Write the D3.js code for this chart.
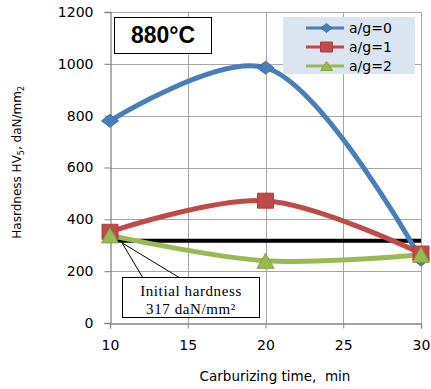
<!DOCTYPE html>
<html>
<head>
<meta charset="utf-8">
<script src="https://cdn.jsdelivr.net/npm/d3@7"></script>
<style>
  html, body { margin: 0; padding: 0; background: #fff; }
  svg { display: block; }
</style>
</head>
<body>
<svg id="chart" width="431" height="389"></svg>
<script>
// Carburizing time (min) and hardness for each a/g ratio
const times = [10, 20, 30];
const seriesNames = ["a/g=0", "a/g=1", "a/g=2"];
const hardnessAg0 = [780, 985, 245];
const hardnessAg1 = [352, 472, 268];
const hardnessAg2 = [338, 240, 263];
const initialHardness = 317;
const yTicks = [0, 200, 400, 600, 800, 1000, 1200];
const xTicks = [10, 15, 20, 25, 30];

const colors = ["#4a7ebb", "#be4b48", "#98b954"];
const markerStroke = ["#3d6faa", "#a8403d", "#84a446"];

// marker outlines, width w and height h, centred on the data point
const markerShapes = [
  (w, h) => `M${-w / 2},0L0,${-h / 2}L${w / 2},0L0,${h / 2}Z`,
  (w, h) => `M${-w / 2},${-h / 2}H${w / 2}V${h / 2}H${-w / 2}Z`,
  (w, h) => `M${-w / 2},${h / 2}L0,${-h / 2}L${w / 2},${h / 2}Z`
];
const plotMarker = [[17, 13], [16, 15], [17, 15]];
const legendMarker = [[11, 9], [12, 10], [12, 9]];

const series = seriesNames.map((name, i) => ({
  name,
  values: [hardnessAg0, hardnessAg1, hardnessAg2][i].map((v, j) => ({ t: times[j], v }))
}));

const svg = d3.select("#chart");
const x = d3.scaleLinear().domain([10, 30]).range([110, 421]);
const y = d3.scaleLinear().domain([0, 1200]).range([323, 12]);

// grid
const grid = svg.append("g").attr("stroke", "#a6a6a6").attr("stroke-width", 1);
grid.selectAll("line.h").data(yTicks.filter(d => d > 0)).join("line")
  .attr("x1", x(10)).attr("x2", x(30))
  .attr("y1", d => Math.round(y(d)) + 0.5).attr("y2", d => Math.round(y(d)) + 0.5);
grid.selectAll("line.v").data(xTicks.filter(d => d > 10)).join("line")
  .attr("y1", y(0)).attr("y2", y(1200))
  .attr("x1", d => Math.round(x(d)) + 0.5).attr("x2", d => Math.round(x(d)) + 0.5);

// axes
const axisFont = "'DejaVu Sans', Verdana, sans-serif";
const yAxis = svg.append("g")
  .attr("transform", `translate(${Math.round(x(10)) + 0.5},0)`)
  .call(d3.axisLeft(y).tickValues(yTicks).tickFormat(d3.format("d")).tickSize(6).tickPadding(11));
const xAxis = svg.append("g")
  .attr("transform", `translate(0,${Math.round(y(0)) + 0.5})`)
  .call(d3.axisBottom(x).tickValues(xTicks).tickFormat(d3.format("d")).tickSize(5).tickPadding(12));
[yAxis, xAxis].forEach(a => {
  a.select(".domain").attr("stroke", "#868686").attr("stroke-width", 1.3);
  a.selectAll(".tick line").attr("stroke", "#868686");
  a.selectAll(".tick text").attr("font-family", axisFont).attr("font-size", 14).attr("fill", "#000");
});

// axis titles
svg.append("text")
  .attr("transform", `translate(21,${y(620)}) rotate(-90)`)
  .attr("text-anchor", "middle")
  .attr("font-family", axisFont).attr("font-size", 12)
  .call(t => {
    t.append("tspan").text("Hasrdness HV");
    t.append("tspan").attr("font-size", 8).attr("dy", 3).text("5");
    t.append("tspan").attr("dy", -3).text(", daN/mm");
    t.append("tspan").attr("font-size", 8).attr("dy", 3).text("2");
  });
svg.append("text")
  .attr("x", 275).attr("y", 381)
  .attr("text-anchor", "middle")
  .attr("font-family", axisFont).attr("font-size", 13.5)
  .attr("xml:space", "preserve")
  .text("Carburizing time,  min");

// initial hardness reference line
svg.append("line")
  .attr("x1", x(10)).attr("x2", x(30))
  .attr("y1", y(initialHardness)).attr("y2", y(initialHardness))
  .attr("stroke", "#000").attr("stroke-width", 4);

// smoothed series lines
const line = d3.line().x(d => x(d.t)).y(d => y(d.v)).curve(d3.curveCatmullRom.alpha(0.5));
series.forEach((s, i) => {
  svg.append("path")
    .attr("d", line(s.values))
    .attr("fill", "none")
    .attr("stroke", colors[i])
    .attr("stroke-width", 5)
    .attr("stroke-linecap", "round");
});
series.forEach((s, i) => {
  svg.append("g").selectAll("path").data(s.values).join("path")
    .attr("transform", d => `translate(${x(d.t)},${y(d.v)})`)
    .attr("d", markerShapes[i](...plotMarker[i]))
    .attr("fill", colors[i])
    .attr("stroke", markerStroke[i]).attr("stroke-width", 1);
});

// temperature label box
svg.append("rect").attr("x", 114.5).attr("y", 17.5).attr("width", 97).attr("height", 36)
  .attr("fill", "#fff").attr("stroke", "#000").attr("stroke-width", 1);
svg.append("text").attr("x", 163).attr("y", 43).attr("text-anchor", "middle")
  .attr("font-family", "'Liberation Sans', Arial, sans-serif").attr("font-weight", "bold")
  .attr("font-size", 23).text("880°C");

// legend
const legend = svg.append("g");
legend.append("rect").attr("x", 283).attr("y", 17).attr("width", 132).attr("height", 57)
  .attr("fill", "#dbe5f1");
series.forEach((s, i) => {
  const ly = 28 + i * 19;
  legend.append("line").attr("x1", 306).attr("x2", 344).attr("y1", ly).attr("y2", ly)
    .attr("stroke", colors[i]).attr("stroke-width", 3);
  legend.append("path").attr("transform", `translate(326.5,${ly})`)
    .attr("d", markerShapes[i](...legendMarker[i]))
    .attr("fill", colors[i]).attr("stroke", markerStroke[i]);
  legend.append("text").attr("x", 349).attr("y", ly + 5)
    .attr("font-family", axisFont).attr("font-size", 14).text(s.name);
});

// callout for initial hardness
const anchor = [122, y(initialHardness) + 2];
const callout = svg.append("g");
callout.append("path")
  .attr("d", `M${anchor[0]},${anchor[1]} L143,278 M${anchor[0]},${anchor[1]} L180,278`)
  .attr("stroke", "#000").attr("stroke-width", 1).attr("fill", "none");
callout.append("rect").attr("x", 122.5).attr("y", 277.5).attr("width", 137).attr("height", 40)
  .attr("fill", "#fff").attr("stroke", "#000");
const ct = callout.append("text").attr("text-anchor", "middle")
  .attr("font-family", "'Liberation Serif', 'Times New Roman', serif").attr("font-size", 15)
  .attr("letter-spacing", 0.6);
ct.append("tspan").attr("x", 191).attr("y", 296).text("Initial hardness");
ct.append("tspan").attr("x", 191).attr("y", 314).text(`${initialHardness} daN/mm²`);
</script>
</body>
</html>
